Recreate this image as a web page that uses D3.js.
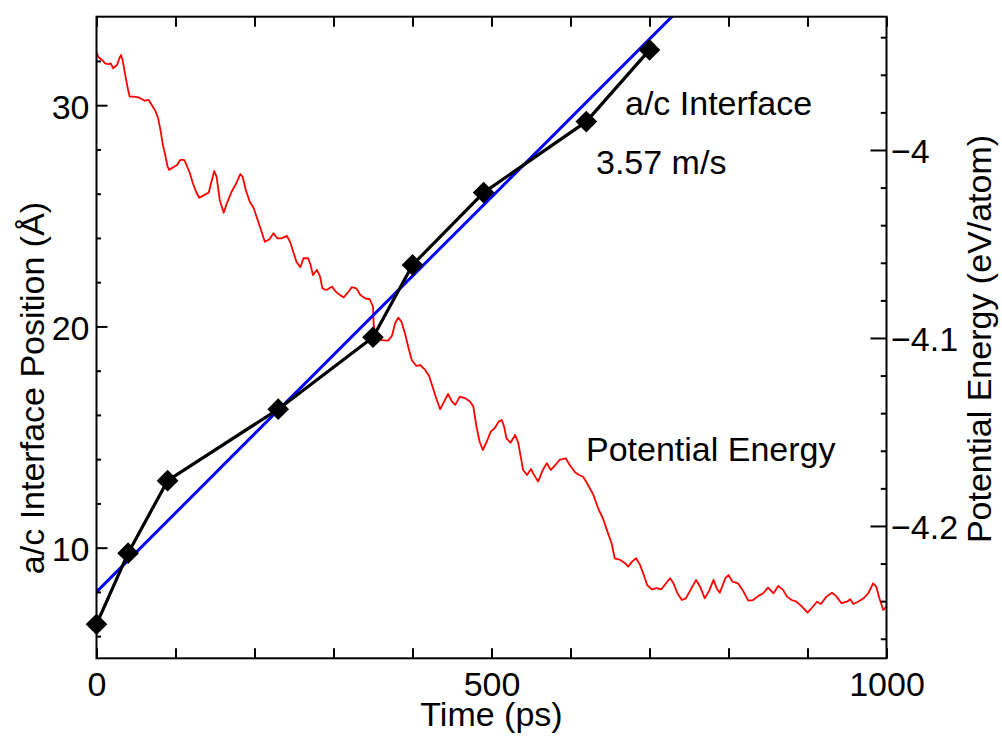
<!DOCTYPE html>
<html>
<head>
<meta charset="utf-8">
<script src="https://cdn.jsdelivr.net/npm/d3@7"></script>
<style>
  html, body { margin: 0; padding: 0; background: #fff; }
  svg text { font-family: "Liberation Sans", Arial, Helvetica, sans-serif; fill: #000; }
</style>
</head>
<body>
<svg id="chart" width="1002" height="737"></svg>
<script>
// a/c interface position (Å) versus simulation time (ps)
const interfaceTime = [0, 40, 90, 230, 350, 400, 490, 620, 700];
const interfacePos  = [6.54, 9.75, 13.03, 16.26, 19.51, 22.78, 26.05, 29.26, 32.5];

// linear fit of the interface motion
const fitVelocity  = 3.57;  // m/s  (1 m/s = 0.01 Å/ps)
const fitIntercept = 8.0;   // Å at t = 0

// potential energy per atom (eV/atom) versus time (ps)
const peTime = [0,2,7,11,15,18,21,26,29,31,33,36,38,40,42,47,53,57,61,66,70,75,78,81,84,87,90,92,97,102,
  106,111,114,118,122,126,130,135,142,145,149,152,156,161,165,171,177,182,185,189,194,199,204,209,213,219,224,229,234,241,
  245,249,253,258,262,268,271,274,279,283,286,291,298,303,308,313,319,323,329,334,340,346,350,351,355,361,369,374,378,382,
  386,391,395,399,405,410,416,421,424,430,435,440,445,450,454,460,467,473,477,481,485,489,494,499,504,509,513,516,519,524,
  530,534,537,540,545,550,553,559,565,570,575,579,586,594,599,606,611,616,621,629,635,641,646,652,656,663,669,673,678,683,
  688,692,697,703,709,715,721,726,730,735,741,746,752,759,764,770,776,781,785,789,796,800,805,812,819,825,831,838,844,850,
  857,863,869,874,880,886,893,900,905,912,917,924,931,936,943,950,954,958,964,971,977,983,987,991,996,1000];
const peEnergy = [-3.9477,-3.9504,-3.9521,-3.9539,-3.9544,-3.9539,-3.9565,-3.9548,-3.9512,-3.9495,
  -3.9521,-3.9592,-3.9637,-3.9681,-3.9716,-3.9716,-3.9720,-3.9729,-3.9738,-3.9734,
  -3.9761,-3.9796,-3.9831,-3.9894,-3.9973,-4.0027,-4.0089,-4.0106,-4.0092,-4.0080,
  -4.0053,-4.0053,-4.0080,-4.0121,-4.0177,-4.0222,-4.0254,-4.0243,-4.0227,-4.0177,
  -4.0112,-4.0142,-4.0266,-4.0334,-4.0284,-4.0222,-4.0177,-4.0128,-4.0142,-4.0213,
  -4.0275,-4.0310,-4.0372,-4.0435,-4.0488,-4.0475,-4.0443,-4.0470,-4.0470,-4.0457,
  -4.0488,-4.0541,-4.0594,-4.0624,-4.0576,-4.0576,-4.0612,-4.0665,-4.0638,-4.0674,
  -4.0736,-4.0745,-4.0727,-4.0754,-4.0771,-4.0784,-4.0754,-4.0730,-4.0736,-4.0771,
  -4.0789,-4.0794,-4.0834,-4.0940,-4.1002,-4.1011,-4.1014,-4.0989,-4.0922,-4.0892,
  -4.0913,-4.0984,-4.1055,-4.1117,-4.1149,-4.1144,-4.1170,-4.1202,-4.1241,-4.1321,
  -4.1379,-4.1339,-4.1298,-4.1339,-4.1356,-4.1312,-4.1321,-4.1339,-4.1365,-4.1472,
  -4.1552,-4.1596,-4.1552,-4.1498,-4.1480,-4.1445,-4.1436,-4.1472,-4.1534,-4.1557,
  -4.1516,-4.1560,-4.1631,-4.1702,-4.1729,-4.1697,-4.1723,-4.1764,-4.1702,-4.1666,
  -4.1702,-4.1685,-4.1649,-4.1640,-4.1676,-4.1716,-4.1729,-4.1738,-4.1773,-4.1835,
  -4.1906,-4.1959,-4.2021,-4.2092,-4.2172,-4.2181,-4.2198,-4.2216,-4.2190,-4.2172,
  -4.2207,-4.2252,-4.2314,-4.2337,-4.2331,-4.2337,-4.2305,-4.2278,-4.2302,-4.2355,
  -4.2394,-4.2385,-4.2340,-4.2287,-4.2323,-4.2385,-4.2340,-4.2287,-4.2331,-4.2355,
  -4.2278,-4.2261,-4.2296,-4.2305,-4.2349,-4.2397,-4.2394,-4.2372,-4.2358,-4.2328,
  -4.2358,-4.2319,-4.2340,-4.2376,-4.2394,-4.2403,-4.2429,-4.2461,-4.2438,-4.2403,
  -4.2415,-4.2376,-4.2355,-4.2372,-4.2411,-4.2403,-4.2390,-4.2415,-4.2403,-4.2385,
  -4.2358,-4.2305,-4.2323,-4.2385,-4.2447,-4.2429];

// tick positions and labels
const xTicks      = [0, 100, 200, 300, 400, 500, 600, 700, 800, 900, 1000];
const xLabels     = [0, 500, 1000];
const leftMajor   = [10, 20, 30];
const leftMinor   = [6, 8, 12, 14, 16, 18, 22, 24, 26, 28, 32];
const rightMajor  = [-4.2, -4.1, -4.0];
const rightMinor  = [-4.26, -4.24, -4.22, -4.18, -4.16, -4.14, -4.12, -4.08, -4.06, -4.04, -4.02, -3.98, -3.96, -3.94];

// plot frame
const frame = { left: 96.5, right: 886.5, top: 16.7, bottom: 658.3 };
const FONT = 34;

const svg = d3.select("#chart");
svg.append("rect").attr("width", 1002).attr("height", 737).attr("fill", "#fff");

const x  = d3.scaleLinear().domain([0, 1000]).range([frame.left, frame.right]);
const yL = d3.scaleLinear().domain([5, 34]).range([frame.bottom, frame.top]);
const yR = d3.scaleLinear().domain([-4.2704, -3.9291]).range([frame.bottom, frame.top]);

svg.append("clipPath").attr("id", "plotClip")
  .append("rect").attr("x", frame.left).attr("y", frame.top)
  .attr("width", frame.right - frame.left).attr("height", frame.bottom - frame.top);

const plot = svg.append("g").attr("clip-path", "url(#plotClip)");

// potential energy trace (right axis)
const peData = peTime.map((t, i) => [t, peEnergy[i]]);
plot.append("path")
  .datum(peData)
  .attr("fill", "none")
  .attr("stroke", "#ff0000")
  .attr("stroke-width", 1.8)
  .attr("stroke-linejoin", "round")
  .attr("d", d3.line().x(d => x(d[0])).y(d => yR(d[1])));

// fitted line for the interface velocity
const slope = fitVelocity * 0.01; // Å per ps
const fitData = [0, 1000].map(t => [t, fitIntercept + slope * t]);
plot.append("path")
  .datum(fitData)
  .attr("fill", "none")
  .attr("stroke", "#0000ff")
  .attr("stroke-width", 3)
  .attr("d", d3.line().x(d => x(d[0])).y(d => yL(d[1])));

// interface position: connected diamonds
const posData = interfaceTime.map((t, i) => [t, interfacePos[i]]);
plot.append("path")
  .datum(posData)
  .attr("fill", "none")
  .attr("stroke", "#000")
  .attr("stroke-width", 3.2)
  .attr("stroke-linejoin", "round")
  .attr("d", d3.line().x(d => x(d[0])).y(d => yL(d[1])));

const diamond = d3.symbol().type(d3.symbolSquare).size(235);
svg.append("g").selectAll("path")
  .data(posData)
  .join("path")
  .attr("d", diamond)
  .attr("fill", "#000")
  .attr("transform", d => `translate(${x(d[0])},${yL(d[1])}) rotate(45)`);

// frame
svg.append("rect")
  .attr("x", frame.left).attr("y", frame.top)
  .attr("width", frame.right - frame.left).attr("height", frame.bottom - frame.top)
  .attr("fill", "none").attr("stroke", "#000").attr("stroke-width", 2);

function styleAxis(g) {
  g.select(".domain").remove();
  g.selectAll(".tick line").attr("stroke", "#000").attr("stroke-width", 2);
  g.selectAll("text").attr("font-size", FONT).attr("fill", "#000")
    .attr("font-family", '"Liberation Sans", Arial, Helvetica, sans-serif');
}

// bottom axis
svg.append("g")
  .attr("transform", `translate(0,${frame.bottom})`)
  .call(d3.axisBottom(x).tickValues(xTicks).tickSize(-10).tickPadding(14)
    .tickFormat(d => xLabels.includes(d) ? String(d) : ""))
  .call(styleAxis);

// top axis
svg.append("g")
  .attr("transform", `translate(0,${frame.top})`)
  .call(d3.axisTop(x).tickValues(xTicks).tickSize(-10).tickFormat(""))
  .call(styleAxis);

// left axis
svg.append("g")
  .attr("transform", `translate(${frame.left},0)`)
  .call(d3.axisLeft(yL).tickValues(leftMinor).tickSize(-4.5).tickFormat(""))
  .call(styleAxis);
svg.append("g")
  .attr("transform", `translate(${frame.left},0)`)
  .call(d3.axisLeft(yL).tickValues(leftMajor).tickSize(-11).tickPadding(7)
    .tickFormat(d3.format("d")))
  .call(styleAxis)
  .call(g => g.selectAll("text").attr("dy", "0.38em"));

// right axis
svg.append("g")
  .attr("transform", `translate(${frame.right},0)`)
  .call(d3.axisRight(yR).tickValues(rightMinor).tickSize(-5.7).tickFormat(""))
  .call(styleAxis);
svg.append("g")
  .attr("transform", `translate(${frame.right},0)`)
  .call(d3.axisRight(yR).tickValues(rightMajor).tickSize(-16).tickPadding(4.5)
    .tickFormat(d3.format(".1~f")))
  .call(styleAxis)
  .call(g => g.selectAll("text").attr("dy", "0.36em"));

// axis titles
svg.append("text")
  .attr("x", (frame.left + frame.right) / 2).attr("y", 726)
  .attr("text-anchor", "middle").attr("font-size", FONT)
  .text("Time (ps)");

svg.append("text")
  .attr("transform", "translate(44,388) rotate(-90)")
  .attr("text-anchor", "middle").attr("font-size", FONT)
  .text("a/c Interface Position (Å)");

svg.append("text")
  .attr("transform", "translate(991,339) rotate(-90)")
  .attr("text-anchor", "middle").attr("font-size", FONT)
  .text("Potential Energy (eV/atom)");

// curve annotations
svg.append("text").attr("x", 625).attr("y", 115).attr("font-size", FONT).text("a/c Interface");
svg.append("text").attr("x", 596).attr("y", 174).attr("font-size", FONT).text(`${fitVelocity} m/s`);
svg.append("text").attr("x", 586).attr("y", 461).attr("font-size", FONT).text("Potential Energy");
</script>
</body>
</html>
